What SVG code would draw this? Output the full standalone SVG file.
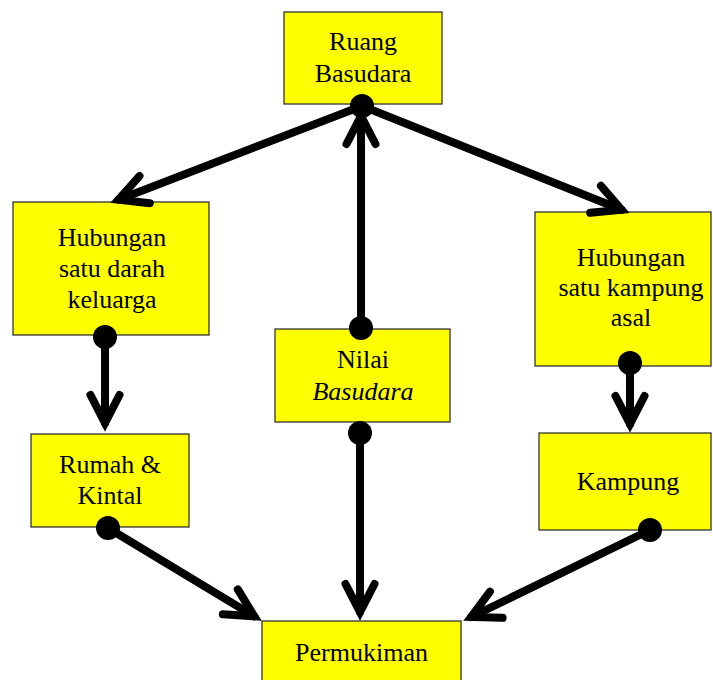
<svg xmlns="http://www.w3.org/2000/svg" width="713" height="680" viewBox="0 0 713 680">
<style>
.box{fill:#ffff00;stroke:#333333;stroke-width:1.3}
.t{font-family:"Liberation Serif","Times New Roman",serif;font-size:26px;fill:#000;text-anchor:middle}
.c{stroke:#000;stroke-width:8;fill:none;stroke-linecap:round}
.dot{fill:#000}
</style>
<defs>
<marker id="ah" markerUnits="userSpaceOnUse" markerWidth="80" markerHeight="80" refX="0" refY="0" viewBox="-40 -40 80 80" orient="auto" overflow="visible">
<path d="M -28 -14.5 L 0 0 L -28 14.5" fill="none" stroke="#000" stroke-width="8" stroke-linecap="round" stroke-linejoin="miter" stroke-miterlimit="10"/>
</marker>
</defs>
<rect width="713" height="680" fill="#fff"/>
<g id="ruang"><rect class="box" x="284" y="12" width="158" height="92"/><text class="t" x="363" y="50">Ruang</text><text class="t" x="363" y="82">Basudara</text></g>
<g id="hub-darah"><rect class="box" x="13" y="202" width="196" height="133"/><text class="t" x="112" y="246">Hubungan</text><text class="t" x="112" y="277">satu darah</text><text class="t" x="112" y="308">keluarga</text></g>
<g id="hub-kampung"><rect class="box" x="535" y="212" width="176" height="154"/><text class="t" x="631" y="266">Hubungan</text><text class="t" x="631" y="296">satu kampung</text><text class="t" x="631" y="326">asal</text></g>
<g id="nilai"><rect class="box" x="275" y="329" width="175" height="93"/><text class="t" x="363" y="368">Nilai</text><text class="t" x="363" y="400" font-style="italic">Basudara</text></g>
<g id="rumah"><rect class="box" x="31" y="434" width="158" height="93"/><text class="t" x="110" y="473">Rumah &amp;</text><text class="t" x="110" y="504">Kintal</text></g>
<g id="kampung"><rect class="box" x="539" y="433" width="172" height="97"/><text class="t" x="628" y="490">Kampung</text></g>
<g id="permukiman"><rect class="box" x="262" y="621" width="199" height="70"/><text class="t" x="361.5" y="661">Permukiman</text></g>
<g id="connectors">
<line class="c" x1="362" y1="106" x2="118.5" y2="199.7" marker-end="url(#ah)"/>
<line class="c" x1="362" y1="106" x2="621.6" y2="209.7" marker-end="url(#ah)"/>
<line class="c" x1="361" y1="328" x2="361" y2="116" marker-end="url(#ah)"/>
<line class="c" x1="105" y1="337" x2="105" y2="423" marker-end="url(#ah)"/>
<line class="c" x1="630" y1="363" x2="630" y2="424" marker-end="url(#ah)"/>
<line class="c" x1="360" y1="433" x2="360" y2="612" marker-end="url(#ah)"/>
<line class="c" x1="108" y1="528" x2="254.3" y2="616.3" marker-end="url(#ah)"/>
<line class="c" x1="650" y1="530" x2="471.1" y2="617" marker-end="url(#ah)"/>
<circle class="dot" cx="362" cy="106" r="12"/>
<circle class="dot" cx="361" cy="328" r="12"/>
<circle class="dot" cx="105" cy="337" r="12"/>
<circle class="dot" cx="630" cy="363" r="12"/>
<circle class="dot" cx="360" cy="433" r="12"/>
<circle class="dot" cx="108" cy="528" r="12"/>
<circle class="dot" cx="650" cy="530" r="12"/>
</g>
</svg>
